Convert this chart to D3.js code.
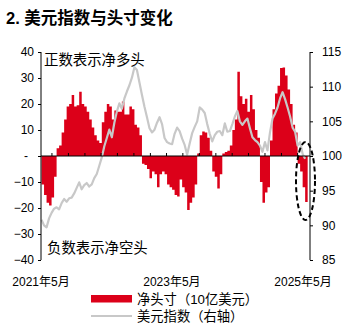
<!DOCTYPE html>
<html>
<head>
<meta charset="utf-8">
<script src="https://cdn.jsdelivr.net/npm/d3@7"></script>
<style>
  html, body { margin: 0; padding: 0; background: #fff; }
  svg { display: block; }
  text { font-family: "Liberation Sans", Arial, "Noto Sans CJK SC", sans-serif; fill: #000; }
</style>
</head>
<body>
<svg id="chart" width="345" height="327"></svg>
<script>
// Biweekly observations from the first reporting week of May 2021
const startDate = new Date(2021, 4, 4);

// Net position, USD bn (left axis)
const netPosition = [
  -11, -15, -18, -19, -16, -8, 3, 4, 9, 14,
  19, 20, 23.5, 19, 19.5, 24.7, 20, 19, 17, 14,
  11, 8, 6, 5, 13, 17, 20, 19, 14, 17.5,
  17, 17, 21, 16, 16, 19, 18, 12, 11, 8,
  -3, -3.5, -5, -8.6, -6, -7, -12, -7, -6, -7,
  -11, -12, -13, -15, -15.6, -9, -12, -14, -20.8, -18,
  -16, -11, 1, 8, 9.4, 9, 7, 2, -6, -8,
  -12.5, -7, 1, 1.5, 2, 4, 10, 14, 32.4, 23,
  20, 22, 17, 23.5, 18, 10, 7, -10, -18, -14,
  -12, 6, 18, 24, 27, 33.8, 34, 31, 25.6, 20,
  12, 9, -3, -6, -12, -17.7
];

// US dollar index (right axis)
const dxy = [
  90.8, 90.0, 89.7, 91.0, 91.8, 92.4, 92.6, 92.3, 93.2, 93.8,
  93.4, 93.9, 94.0, 94.6, 95.4, 96.2, 95.2, 95.8, 96.1, 95.6,
  95.9, 96.8, 97.4, 98.6, 99.8, 101.4, 102.6, 103.8, 102.7, 104.8,
  106.4, 107.6, 106.8, 108.3, 109.3, 110.2, 111.3, 112.8, 112.4, 110.6,
  108.8, 107.1, 105.6, 104.0, 103.4, 103.8, 104.8, 105.6, 104.6, 102.6,
  102.0, 101.8, 101.7, 103.2, 104.1, 103.6, 102.5, 101.6, 100.2, 101.8,
  103.3, 104.2, 105.0, 107.0, 106.7, 106.2, 104.6, 103.2, 102.1, 103.0,
  103.5, 103.6, 103.0, 104.7, 103.5, 103.6, 104.6, 105.7, 106.5, 105.0,
  104.5, 105.0, 105.4, 104.0, 102.7, 102.3, 102.0, 101.5, 100.6, 102.0,
  100.8, 103.4, 105.4, 106.1, 107.0, 108.3, 109.2, 108.2, 107.0, 105.7,
  104.1, 103.5, 101.5, 102.0, 100.3, 99.6
];

const leftTicks = [-40, -30, -20, -10, 0, 10, 20, 30, 40];
const rightTicks = [85, 90, 95, 100, 105, 110, 115];
const xLabelDates = [new Date(2021, 4, 1), new Date(2023, 4, 1), new Date(2025, 4, 1)];

const dates = netPosition.map((_, i) => d3.timeDay.offset(startDate, 14 * i));
const rows = dates.map((d, i) => ({ date: d, net: netPosition[i], dxy: dxy[i] }));

const svg = d3.select("#chart");
const red = "#DC0019";
const grey = "#C8C8C8";

const plotLeft = 41, plotRight = 310, plotTop = 52, plotBottom = 260;

const x = d3.scaleTime()
  .domain([new Date(2021, 4, 1), new Date(2025, 4, 1)])
  .range([plotLeft, 303]);
const yL = d3.scaleLinear().domain([-40, 40]).range([plotBottom, plotTop]);
const yR = d3.scaleLinear().domain([85, 115]).range([plotBottom, plotTop]);

// Title
svg.append("text")
  .attr("x", 6).attr("y", 24)
  .style("font-size", "16.5px").style("font-weight", "bold")
  .text("2. 美元指数与头寸变化");

// Net position columns, drawn as one stepped area so adjacent periods join seamlessly
const last = rows[rows.length - 1];
const stepRows = rows.concat([{ date: d3.timeDay.offset(last.date, 14), net: last.net }]);
svg.append("path").datum(stepRows)
  .attr("fill", red)
  .attr("d", d3.area().curve(d3.curveStepAfter)
    .x(d => x(d.date)).y0(yL(0)).y1(d => yL(d.net)));

// Dollar index line
svg.append("path").datum(rows)
  .attr("fill", "none").attr("stroke", grey).attr("stroke-width", 2.2)
  .attr("stroke-linejoin", "round")
  .attr("d", d3.line().x(d => x(d.date)).y(d => yR(d.dxy)));

// Left axis
const leftAxis = svg.append("g").attr("transform", `translate(${plotLeft},0)`)
  .call(d3.axisLeft(yL).tickValues(leftTicks).tickSize(3).tickPadding(4)
    .tickFormat(d => d === 0 ? "-" : d3.format("d")(d)));
leftAxis.selectAll("text").filter(d => d === 0).attr("dx", -6);

// Right axis
svg.append("g").attr("transform", `translate(${plotRight},0)`)
  .call(d3.axisRight(yR).tickValues(rightTicks).tickSize(3).tickPadding(9)
    .tickFormat(d3.format("d")));

svg.selectAll(".domain").remove();
svg.selectAll(".tick text").style("font-size", "12px").attr("fill", "#000");
svg.selectAll(".tick line").attr("stroke", "#000");
// Axis spines
[plotLeft, plotRight].forEach(px => {
  svg.append("line")
    .attr("x1", px).attr("x2", px)
    .attr("y1", yL(40)).attr("y2", yL(-40))
    .attr("stroke", "#000");
});

// Zero line with quarterly ticks
const zeroY = yL(0);
svg.append("line")
  .attr("x1", plotLeft).attr("x2", plotRight)
  .attr("y1", zeroY).attr("y2", zeroY)
  .attr("stroke", "#000").attr("stroke-width", 1.2);
const quarterTicks = d3.timeMonth.every(3).range(new Date(2021, 4, 1), new Date(2025, 4, 2));
svg.append("g").selectAll("line").data(quarterTicks).join("line")
  .attr("x1", d => x(d)).attr("x2", d => x(d))
  .attr("y1", zeroY).attr("y2", zeroY - 3)
  .attr("stroke", "#000");

// Date labels
svg.append("g").selectAll("text").data(xLabelDates).join("text")
  .attr("x", d => x(d)).attr("y", 286)
  .attr("text-anchor", "middle")
  .style("font-size", "12px")
  .text(d => d3.timeFormat("%Y")(d) + "年" + (d.getMonth() + 1) + "月");

// Annotations
svg.append("text").attr("x", 44).attr("y", 65)
  .style("font-size", "14.4px").text("正数表示净多头");
svg.append("text").attr("x", 47).attr("y", 253)
  .style("font-size", "14.4px").text("负数表示净空头");

// Highlight of the latest move
svg.append("ellipse")
  .attr("cx", 305.5).attr("cy", 181).attr("rx", 9.5).attr("ry", 39)
  .attr("fill", "none").attr("stroke", "#000")
  .attr("stroke-width", 2).attr("stroke-dasharray", "5,3");

// Legend
const legend = svg.append("g");
legend.append("rect").attr("x", 91).attr("y", 295).attr("width", 41).attr("height", 7.5).attr("fill", red);
legend.append("text").attr("x", 137).attr("y", 304).style("font-size", "13.3px").text("净头寸（10亿美元）");
legend.append("line").attr("x1", 91).attr("x2", 132).attr("y1", 316).attr("y2", 316)
  .attr("stroke", grey).attr("stroke-width", 2);
legend.append("text").attr("x", 137).attr("y", 321).style("font-size", "13.3px").text("美元指数（右轴）");
</script>
</body>
</html>
